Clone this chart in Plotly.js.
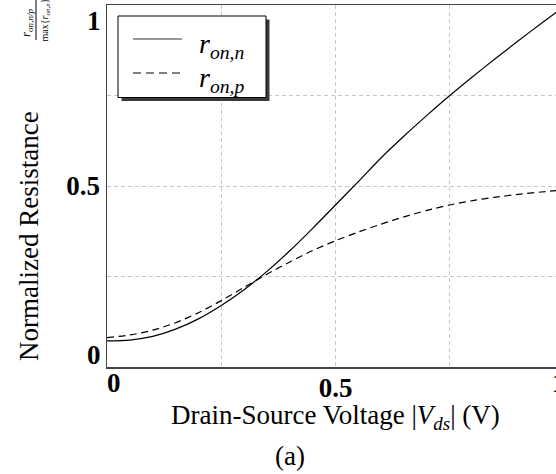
<!DOCTYPE html>
<html>
<head>
<meta charset="utf-8">
<script src="https://cdn.plot.ly/plotly-3.0.1.min.js"></script>
<style>
html,body{margin:0;padding:0;overflow:hidden;background:#fff;}
#chart{width:575px;height:474px;}
</style>
</head>
<body>
<div id="chart"></div>
<script>
// ---- data ----
const vds  = [0,0.05,0.1,0.15,0.2,0.25,0.3,0.35,0.4,0.45,0.5,0.55,0.6,0.65,0.7,0.75,0.8,0.85,0.9,0.95,1.0];
const rOnN = [0.072,0.0745,0.0845,0.1045,0.133,0.170,0.2134,0.2641,0.3211,0.3831,0.4476,0.5121,0.578,0.638,0.695,0.750,0.802,0.852,0.901,0.949,0.996];
const rOnP = [0.081,0.0885,0.1018,0.1223,0.1498,0.1833,0.2201,0.2563,0.2903,0.3216,0.3488,0.3728,0.3948,0.4148,0.4326,0.4476,0.4596,0.4691,0.4769,0.4834,0.4889];
const seriesNames = ['<i>r</i><sub><i>on,n</i></sub>', '<i>r</i><sub><i>on,p</i></sub>'];
const seriesDash = ['solid', '7px,4.5px'];
const gridVals = [0,0.25,0.5,0.75,1];
const xTickText = ['','','<b>0.5</b>','',''];
const yTickText = ['','','<b>0.5</b>','',''];
const edgeTicks = [0,1];
const edgeTickText = ['<b>0</b>','<b>1</b>'];
const xTitle = 'Drain-Source Voltage |<i>V</i><sub><i>ds</i></sub>| (V)';
const yTitle = 'Normalized Resistance';
const fracNum = '<i>r</i><sub><i>on,n/p</i></sub>';
const fracDen = 'max{<i>r</i><sub><i>on,n</i></sub>}';
const caption = '(a)';

// ---- layout geometry ----
const W = 575, H = 474;
const M = {l:107, r:11, t:5, b:107};
const pw = W - M.l - M.r, ph = H - M.t - M.b;
const px = v => (v - M.l) / pw;          // pixel x -> paper
const py = v => (H - M.b - v) / ph;      // pixel y -> paper

const FONT = 'Liberation Serif, Times New Roman, serif';
const TF = 27;

const traces = [
  {x: vds, y: rOnN, name: seriesNames[0], type: 'scatter', mode: 'lines', showlegend:false,
   line: {color: '#000', width: 1.2, dash: seriesDash[0], shape: 'spline', smoothing: 0.8}},
  {x: vds, y: rOnP, name: seriesNames[1], type: 'scatter', mode: 'lines', showlegend:false,
   line: {color: '#000', width: 1.2, dash: seriesDash[1], shape: 'spline', smoothing: 0.8}}
];

const annotations = [
  // edge tick labels
  {xref:'x', yref:'paper', x: edgeTicks[0], y: py(366), text: edgeTickText[0], showarrow:false,
   xanchor:'left', yanchor:'top', xshift:-2, font:{family:FONT, size:TF, color:'#000'}},
  {xref:'x', yref:'paper', x: edgeTicks[1], y: py(366), text: edgeTickText[1], showarrow:false,
   xanchor:'right', yanchor:'top', xshift:4, font:{family:FONT, size:TF, color:'#000'}},
  {xref:'paper', yref:'y', x: px(103), y: edgeTicks[0], text: edgeTickText[0], showarrow:false,
   xanchor:'right', yanchor:'bottom', yshift:-5, font:{family:FONT, size:TF, color:'#000'}},
  {xref:'paper', yref:'y', x: px(103), y: edgeTicks[1], text: edgeTickText[1], showarrow:false,
   xanchor:'right', yanchor:'top', yshift:1, font:{family:FONT, size:TF, color:'#000'}},
  // y title
  {xref:'paper', yref:'paper', x: px(29), y: py(236), text: yTitle, textangle:-90, showarrow:false,
   xanchor:'center', yanchor:'middle', font:{family:FONT, size:TF, color:'#000'}},
  {xref:'paper', yref:'paper', x: px(27), y: py(23), text: fracNum, textangle:-90, showarrow:false,
   xanchor:'center', yanchor:'middle', font:{family:FONT, size:13, color:'#000'}},
  {xref:'paper', yref:'paper', x: px(45), y: py(20.5), text: fracDen, textangle:-90, showarrow:false,
   xanchor:'center', yanchor:'middle', font:{family:FONT, size:10, color:'#000'}},
  // x title
  {xref:'paper', yref:'paper', x: px(335), y: py(417), text: xTitle, showarrow:false,
   xanchor:'center', yanchor:'middle', font:{family:FONT, size:TF, color:'#000'}},
  // caption
  {xref:'paper', yref:'paper', x: px(290), y: py(456), text: caption, showarrow:false,
   xanchor:'center', yanchor:'middle', font:{family:FONT, size:TF, color:'#000'}},
  // legend labels
  {xref:'paper', yref:'paper', x: px(197), y: py(45), text: seriesNames[0], showarrow:false,
   xanchor:'left', yanchor:'middle', font:{family:FONT, size:28, color:'#000'}},
  {xref:'paper', yref:'paper', x: px(197), y: py(79), text: seriesNames[1], showarrow:false,
   xanchor:'left', yanchor:'middle', font:{family:FONT, size:28, color:'#000'}}
];

const shapes = [
  // fraction bar
  {type:'line', xref:'paper', yref:'paper', x0: px(36), x1: px(36), y0: py(-2), y1: py(40),
   line:{color:'#000', width:1}},
  // legend shadow
  {type:'rect', xref:'paper', yref:'paper', x0: px(121.5), x1: px(269.5), y0: py(19.5), y1: py(101),
   line:{width:0}, fillcolor:'#3a3a3a', layer:'above'},
  // legend box
  {type:'rect', xref:'paper', yref:'paper', x0: px(118), x1: px(266), y0: py(16), y1: py(97.5),
   line:{width:1, color:'#000'}, fillcolor:'#fff', layer:'above'},
  // legend keys
  {type:'line', xref:'paper', yref:'paper', x0: px(133), x1: px(182), y0: py(39), y1: py(39),
   line:{color:'#333', width:1.2, dash: seriesDash[0]}, layer:'above'},
  {type:'line', xref:'paper', yref:'paper', x0: px(133), x1: px(182), y0: py(73), y1: py(73),
   line:{color:'#000', width:1.2, dash:'8px,5px'}, layer:'above'}
];

const axisCommon = {
  range:[0,1], tickvals: gridVals, showgrid:true, gridcolor:'#c8c8c8', griddash:'4px,3px', gridwidth:1,
  zeroline:false, showline:true, linecolor:'#444', linewidth:1.5, mirror:true, ticks:'',
  tickfont:{family:FONT, size:TF, color:'#000'}, fixedrange:true
};

const layout = {
  width: W, height: H, margin: M,
  paper_bgcolor:'#fff', plot_bgcolor:'#fff',
  font:{family:FONT, color:'#000'},
  xaxis: Object.assign({}, axisCommon, {ticktext: xTickText, ticklabelstandoff: -4}),
  yaxis: Object.assign({}, axisCommon, {ticktext: yTickText, ticklabelstandoff: 0}),
  showlegend: false,
  annotations: annotations,
  shapes: shapes
};

Plotly.newPlot('chart', traces, layout, {staticPlot:true, displayModeBar:false});
</script>
</body>
</html>
